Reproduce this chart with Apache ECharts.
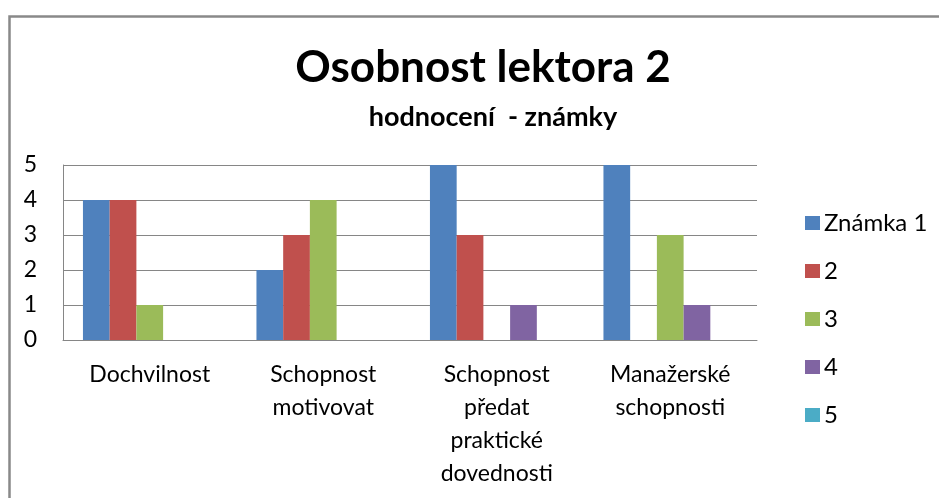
<!DOCTYPE html>
<html>
<head>
<meta charset="utf-8">
<script src="https://cdn.jsdelivr.net/npm/echarts@6/dist/echarts.min.js"></script>
<style>html,body{margin:0;padding:0;background:#fff}#c{width:939px;height:498px}</style>
</head>
<body>
<div id="c"></div>
<script>
const categories = ["Dochvilnost", "Schopnost motivovat", "Schopnost předat praktické dovednosti", "Manažerské schopnosti"];
const seriesNames = ["Známka 1", "2", "3", "4", "5"];
const grade1 = [4, 2, 5, 5];
const grade2 = [4, 3, 3, 0];
const grade3 = [1, 4, 0, 3];
const grade4 = [0, 0, 1, 1];
const grade5 = [0, 0, 0, 0];
const yTicks = [0, 1, 2, 3, 4, 5];
const colors = ["#4F81BD", "#C0504D", "#9BBB59", "#8064A2", "#4BACC6"];

const allData = [grade1, grade2, grade3, grade4, grade5];
const font = "Lato, 'Open Sans', sans-serif";
const chart = echarts.init(document.getElementById('c'), null, {renderer: 'canvas'});
chart.setOption({
  backgroundColor: '#fff',
  animation: false,
  title: [
    {text: 'Osobnost lektora 2', left: 478, top: 41, textAlign: 'center',
     textStyle: {fontFamily: font, fontWeight: 'bold', fontSize: 44, color: '#000'}},
    {text: 'hodnocení  - známky', left: 488, top: 99, textAlign: 'center',
     textStyle: {fontFamily: font, fontWeight: 'bold', fontSize: 27, color: '#000'}}
  ],
  graphic: [{
    type: 'rect', left: 7, top: 14, silent: true,
    shape: {width: 1000, height: 1000},
    style: {fill: 'none', stroke: '#898989', lineWidth: 2.5}
  }],
  legend: {
    orient: 'vertical', left: 800, top: 206,
    itemWidth: 15, itemHeight: 14, itemGap: 24,
    icon: 'rect',
    data: seriesNames,
    textStyle: {fontFamily: font, fontSize: 24, color: '#000', lineHeight: 24, padding: [0,0,0,-1]}
  },
  grid: {left: 63, right: 182, top: 165, bottom: 158, containLabel: false},
  xAxis: {
    type: 'category', data: categories,
    axisLine: {show: true, lineStyle: {color: '#868686', width: 1}},
    axisTick: {show: false},
    axisLabel: {
      interval: 0, margin: 18, fontFamily: font, fontSize: 23, color: '#000', lineHeight: 33,
      formatter: v => v.split(' ').join('\n')
    }
  },
  yAxis: {
    type: 'value', min: 0, max: 5, interval: 1,
    axisLine: {show: true, lineStyle: {color: '#868686', width: 1}},
    axisTick: {show: false},
    splitLine: {show: true, lineStyle: {color: '#868686', width: 1}},
    axisLabel: {margin: 26, fontFamily: font, fontSize: 23, color: '#000',
      formatter: v => yTicks.includes(v) ? String(v) : ''}
  },
  series: seriesNames.map((n, i) => ({
    name: n, type: 'bar', data: allData[i],
    barGap: '0%', barCategoryGap: '23%',
    itemStyle: {color: colors[i]}
  }))
});
</script>
</body>
</html>
